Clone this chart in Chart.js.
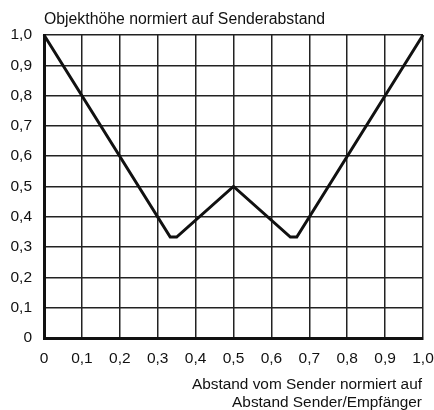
<!DOCTYPE html>
<html><head><meta charset="utf-8">
<script src="https://cdn.jsdelivr.net/npm/chart.js@4.4.0/dist/chart.umd.min.js"></script>
<style>html,body{margin:0;padding:0;background:#fff}#wrap{width:434px;height:410px}</style>
</head><body><div id="wrap"><canvas id="c" width="434" height="410"></canvas></div>
<script>
const distance = [0, 0.333, 0.35, 0.5, 0.65, 0.667, 1.0];
const objectHeight = [1.0, 0.333, 0.333, 0.5, 0.333, 0.333, 1.0];
const yTitle = 'Objekthöhe normiert auf Senderabstand';
const xTitle = ['Abstand vom Sender normiert auf', 'Abstand Sender/Empfänger'];
const FONT = 'Liberation Sans, Arial, Helvetica, sans-serif';

function fmt(v) {
  const r = Math.round(v * 10) / 10;
  return r === 0 ? '0' : r.toFixed(1).replace('.', ',');
}

const textPlugin = {
  id: 'texts',
  afterDraw(chart) {
    const ctx = chart.ctx, a = chart.chartArea;
    ctx.save();
    ctx.fillStyle = '#111';
    ctx.font = '15.8px ' + FONT;
    ctx.textBaseline = 'alphabetic';
    ctx.textAlign = 'left';
    ctx.fillText(yTitle, a.left, 24);
    ctx.font = '15.4px ' + FONT;
    ctx.textAlign = 'right';
    ctx.fillText(xTitle[0], a.right - 1, 389);
    ctx.fillText(xTitle[1], a.right - 1, 407);
    ctx.restore();
  }
};

new Chart(document.getElementById('c'), {
  type: 'scatter',
  data: {
    datasets: [{
      data: distance.map((x, i) => ({ x, y: objectHeight[i] })),
      showLine: true,
      borderColor: '#111',
      borderWidth: 3,
      pointRadius: 0,
      tension: 0,
      borderJoinStyle: 'miter',
      clip: false
    }]
  },
  options: {
    responsive: false,
    animation: false,
    layout: { padding: { top: 35, right: 11, left: 0, bottom: 0 } },
    plugins: { legend: { display: false }, tooltip: { enabled: false } },
    scales: {
      x: {
        type: 'linear', min: 0, max: 1,
        afterFit(s) { s.height = 72; s.paddingLeft = 0; s.paddingRight = 0; },
        border: { display: true, color: '#111', width: 3 },
        grid: { color: '#222', lineWidth: 1.5, drawTicks: false },
        ticks: { stepSize: 0.1, color: '#111', font: { family: FONT, size: 15.5 }, padding: 11, maxRotation: 0, autoSkip: false, callback: fmt }
      },
      y: {
        type: 'linear', min: 0, max: 1,
        afterFit(s) { s.width = 44; s.paddingTop = 0; s.paddingBottom = 0; },
        border: { display: true, color: '#111', width: 3 },
        grid: { color: '#222', lineWidth: 1.5, drawTicks: false },
        ticks: { stepSize: 0.1, color: '#111', font: { family: FONT, size: 15.5 }, padding: 12, autoSkip: false, callback: fmt }
      }
    }
  },
  plugins: [textPlugin]
});
</script></body></html>
